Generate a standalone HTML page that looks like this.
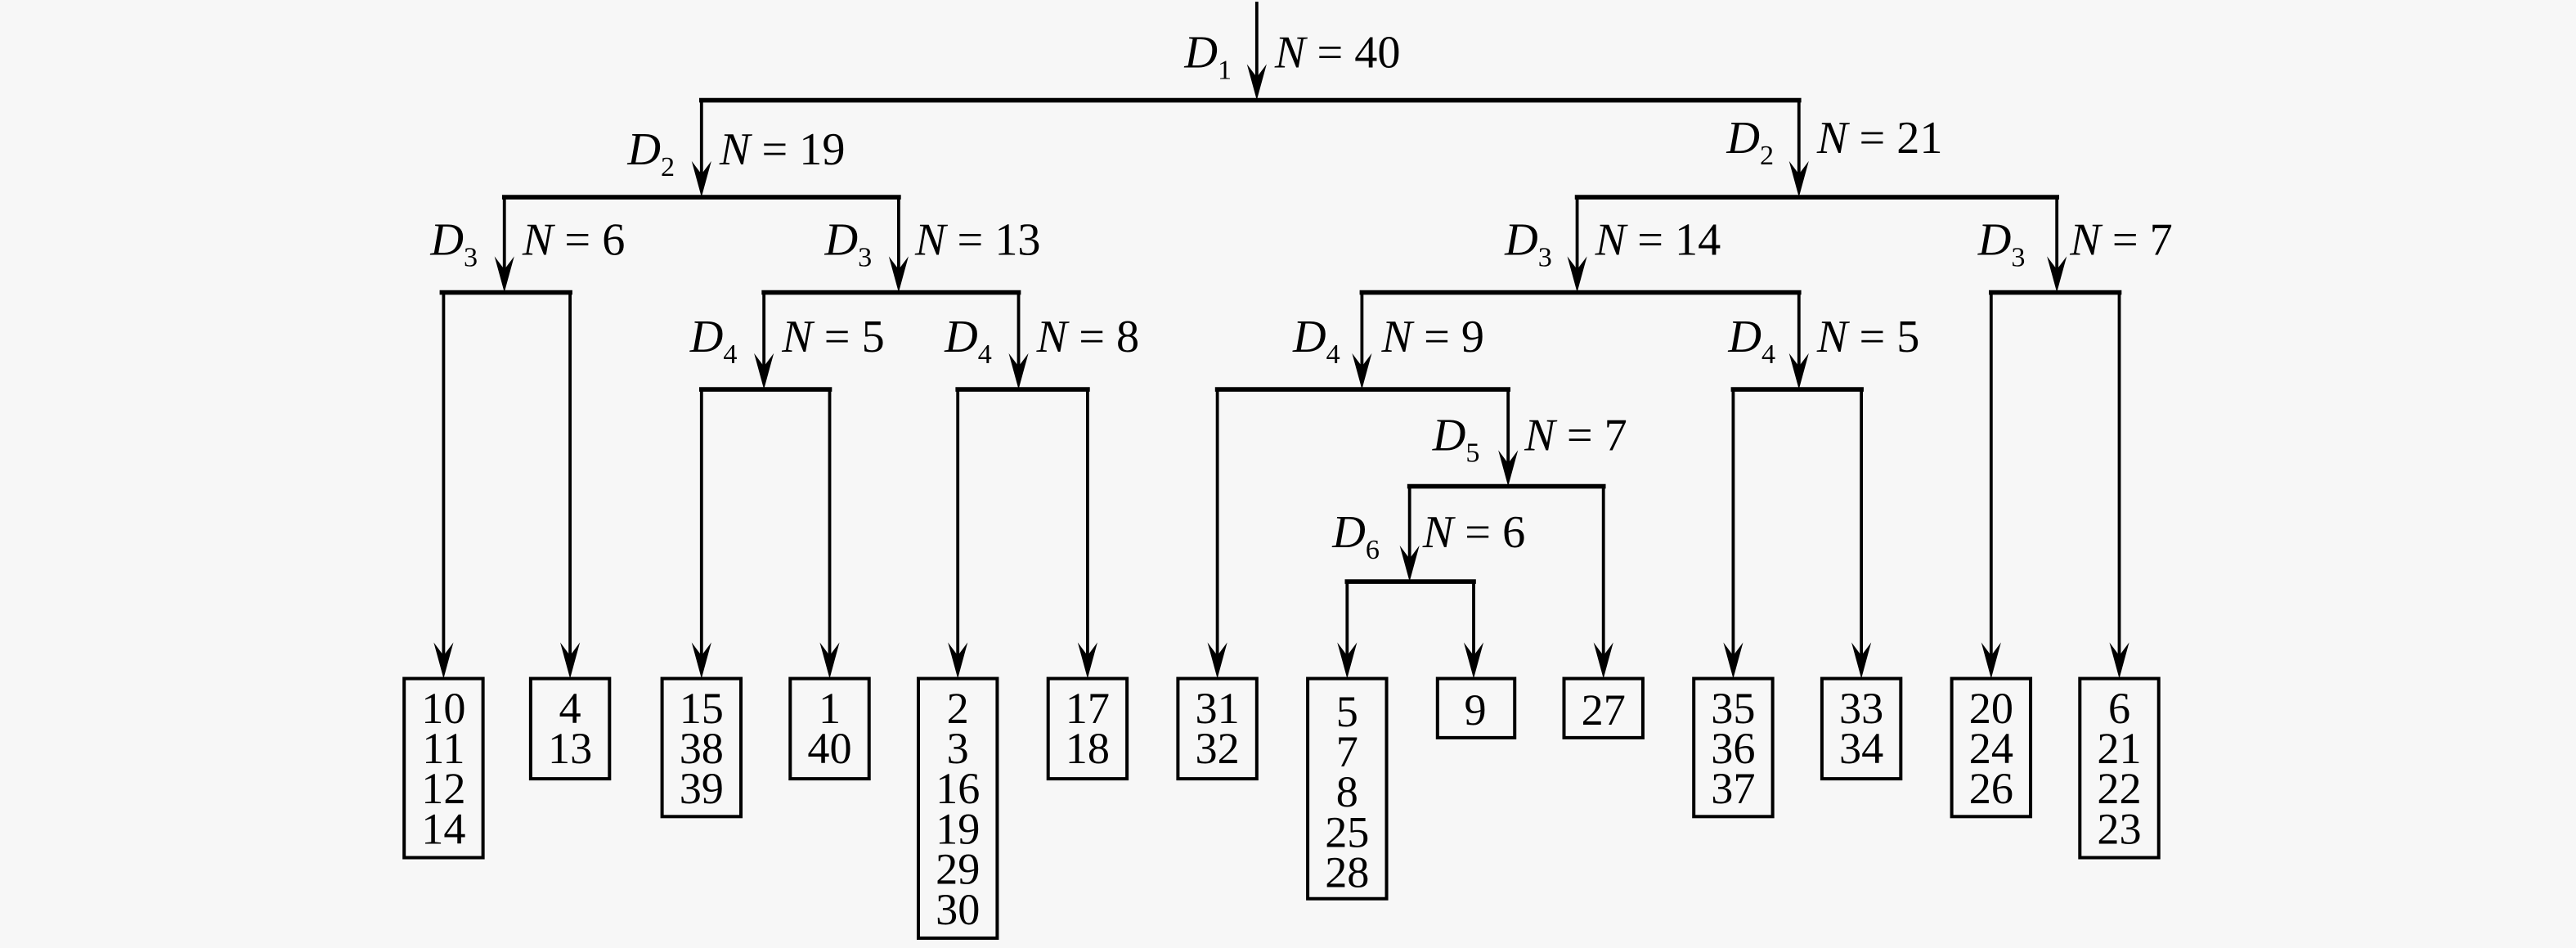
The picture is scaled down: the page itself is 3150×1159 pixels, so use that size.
<!DOCTYPE html>
<html><head><meta charset="utf-8"><style>
html,body{margin:0;padding:0;background:#f7f7f7;}
svg{display:block;}
text{font-family:"Liberation Serif",serif;fill:#000;}
</style></head><body>
<svg width="3150" height="1159" viewBox="0 0 1568 577" preserveAspectRatio="none" xmlns="http://www.w3.org/2000/svg">
<rect width="1568" height="577" fill="#f7f7f7"/>
<g stroke="#000" fill="none" stroke-linecap="square">
<g stroke-width="2.8">
<line x1="427" y1="61" x2="1095" y2="61"/>
<line x1="307" y1="120" x2="547" y2="120"/>
<line x1="960" y1="120" x2="1252" y2="120"/>
<line x1="269" y1="178" x2="347" y2="178"/>
<line x1="465" y1="178" x2="620" y2="178"/>
<line x1="829" y1="178" x2="1095" y2="178"/>
<line x1="1212" y1="178" x2="1290" y2="178"/>
<line x1="427" y1="237" x2="505" y2="237"/>
<line x1="583" y1="237" x2="662" y2="237"/>
<line x1="741" y1="237" x2="918" y2="237"/>
<line x1="1055" y1="237" x2="1133" y2="237"/>
<line x1="858" y1="296" x2="976" y2="296"/>
<line x1="820" y1="354" x2="897" y2="354"/>
</g>
<g stroke-width="1.9">
<line x1="765" y1="2" x2="765" y2="55"/>
<line x1="427" y1="61" x2="427" y2="114"/>
<line x1="1095" y1="61" x2="1095" y2="114"/>
<line x1="307" y1="120" x2="307" y2="172"/>
<line x1="547" y1="120" x2="547" y2="172"/>
<line x1="960" y1="120" x2="960" y2="172"/>
<line x1="1252" y1="120" x2="1252" y2="172"/>
<line x1="465" y1="178" x2="465" y2="231"/>
<line x1="620" y1="178" x2="620" y2="231"/>
<line x1="829" y1="178" x2="829" y2="231"/>
<line x1="1095" y1="178" x2="1095" y2="231"/>
<line x1="918" y1="237" x2="918" y2="290"/>
<line x1="858" y1="296" x2="858" y2="348"/>
<line x1="270" y1="178" x2="270" y2="406"/>
<line x1="347" y1="178" x2="347" y2="406"/>
<line x1="427" y1="237" x2="427" y2="406"/>
<line x1="505" y1="237" x2="505" y2="406"/>
<line x1="583" y1="237" x2="583" y2="406"/>
<line x1="662" y1="237" x2="662" y2="406"/>
<line x1="741" y1="237" x2="741" y2="406"/>
<line x1="820" y1="354" x2="820" y2="406"/>
<line x1="897" y1="354" x2="897" y2="406"/>
<line x1="976" y1="296" x2="976" y2="406"/>
<line x1="1055" y1="237" x2="1055" y2="406"/>
<line x1="1133" y1="237" x2="1133" y2="406"/>
<line x1="1212" y1="178" x2="1212" y2="406"/>
<line x1="1290" y1="178" x2="1290" y2="406"/>
</g>
<g stroke-width="2">
<rect x="246" y="413" width="48" height="109"/>
<rect x="323" y="413" width="48" height="61"/>
<rect x="403" y="413" width="48" height="84"/>
<rect x="481" y="413" width="48" height="61"/>
<rect x="559" y="413" width="48" height="158"/>
<rect x="638" y="413" width="48" height="61"/>
<rect x="717" y="413" width="48" height="61"/>
<rect x="796" y="413" width="48" height="134"/>
<rect x="875" y="413" width="47" height="36"/>
<rect x="952" y="413" width="48" height="36"/>
<rect x="1031" y="413" width="48" height="84"/>
<rect x="1109" y="413" width="48" height="61"/>
<rect x="1188" y="413" width="48" height="84"/>
<rect x="1266" y="413" width="48" height="109"/>
</g>
</g>
<g fill="#000">
<path d="M765 61 L759 39 L765 47 L771 39Z"/>
<path d="M427 120 L421 98 L427 106 L433 98Z"/>
<path d="M1095 120 L1089 98 L1095 106 L1101 98Z"/>
<path d="M307 178 L301 156 L307 164 L313 156Z"/>
<path d="M547 178 L541 156 L547 164 L553 156Z"/>
<path d="M960 178 L954 156 L960 164 L966 156Z"/>
<path d="M1252 178 L1246 156 L1252 164 L1258 156Z"/>
<path d="M465 237 L459 215 L465 223 L471 215Z"/>
<path d="M620 237 L614 215 L620 223 L626 215Z"/>
<path d="M829 237 L823 215 L829 223 L835 215Z"/>
<path d="M1095 237 L1089 215 L1095 223 L1101 215Z"/>
<path d="M918 296 L912 274 L918 282 L924 274Z"/>
<path d="M858 354 L852 332 L858 340 L864 332Z"/>
<path d="M270 413 L264 391 L270 399 L276 391Z"/>
<path d="M347 413 L341 391 L347 399 L353 391Z"/>
<path d="M427 413 L421 391 L427 399 L433 391Z"/>
<path d="M505 413 L499 391 L505 399 L511 391Z"/>
<path d="M583 413 L577 391 L583 399 L589 391Z"/>
<path d="M662 413 L656 391 L662 399 L668 391Z"/>
<path d="M741 413 L735 391 L741 399 L747 391Z"/>
<path d="M820 413 L814 391 L820 399 L826 391Z"/>
<path d="M897 413 L891 391 L897 399 L903 391Z"/>
<path d="M976 413 L970 391 L976 399 L982 391Z"/>
<path d="M1055 413 L1049 391 L1055 399 L1061 391Z"/>
<path d="M1133 413 L1127 391 L1133 399 L1139 391Z"/>
<path d="M1212 413 L1206 391 L1212 399 L1218 391Z"/>
<path d="M1290 413 L1284 391 L1290 399 L1296 391Z"/>
</g>
<g font-size="28">
<text x="721" y="41"><tspan font-style="italic">D</tspan><tspan font-size="17" dy="7">1</tspan></text>
<text x="776" y="41"><tspan font-style="italic">N</tspan> = 40</text>
<text x="382" y="100"><tspan font-style="italic">D</tspan><tspan font-size="17" dy="7">2</tspan></text>
<text x="438" y="100"><tspan font-style="italic">N</tspan> = 19</text>
<text x="1051" y="93"><tspan font-style="italic">D</tspan><tspan font-size="17" dy="7">2</tspan></text>
<text x="1106" y="93"><tspan font-style="italic">N</tspan> = 21</text>
<text x="262" y="155"><tspan font-style="italic">D</tspan><tspan font-size="17" dy="7">3</tspan></text>
<text x="318" y="155"><tspan font-style="italic">N</tspan> = 6</text>
<text x="502" y="155"><tspan font-style="italic">D</tspan><tspan font-size="17" dy="7">3</tspan></text>
<text x="557" y="155"><tspan font-style="italic">N</tspan> = 13</text>
<text x="916" y="155"><tspan font-style="italic">D</tspan><tspan font-size="17" dy="7">3</tspan></text>
<text x="971" y="155"><tspan font-style="italic">N</tspan> = 14</text>
<text x="1204" y="155"><tspan font-style="italic">D</tspan><tspan font-size="17" dy="7">3</tspan></text>
<text x="1260" y="155"><tspan font-style="italic">N</tspan> = 7</text>
<text x="420" y="214"><tspan font-style="italic">D</tspan><tspan font-size="17" dy="7">4</tspan></text>
<text x="476" y="214"><tspan font-style="italic">N</tspan> = 5</text>
<text x="575" y="214"><tspan font-style="italic">D</tspan><tspan font-size="17" dy="7">4</tspan></text>
<text x="631" y="214"><tspan font-style="italic">N</tspan> = 8</text>
<text x="787" y="214"><tspan font-style="italic">D</tspan><tspan font-size="17" dy="7">4</tspan></text>
<text x="841" y="214"><tspan font-style="italic">N</tspan> = 9</text>
<text x="1052" y="214"><tspan font-style="italic">D</tspan><tspan font-size="17" dy="7">4</tspan></text>
<text x="1106" y="214"><tspan font-style="italic">N</tspan> = 5</text>
<text x="872" y="274"><tspan font-style="italic">D</tspan><tspan font-size="17" dy="7">5</tspan></text>
<text x="928" y="274"><tspan font-style="italic">N</tspan> = 7</text>
<text x="811" y="333"><tspan font-style="italic">D</tspan><tspan font-size="17" dy="7">6</tspan></text>
<text x="866" y="333"><tspan font-style="italic">N</tspan> = 6</text>
</g>
<g font-size="27" text-anchor="middle">
<text x="270" y="440">10</text><text x="270" y="464.5">11</text><text x="270" y="489">12</text><text x="270" y="513.5">14</text>
<text x="347" y="440">4</text><text x="347" y="464.5">13</text>
<text x="427" y="440">15</text><text x="427" y="464.5">38</text><text x="427" y="489">39</text>
<text x="505" y="440">1</text><text x="505" y="464.5">40</text>
<text x="583" y="440">2</text><text x="583" y="464.5">3</text><text x="583" y="489">16</text><text x="583" y="513.5">19</text><text x="583" y="538">29</text><text x="583" y="562.5">30</text>
<text x="662" y="440">17</text><text x="662" y="464.5">18</text>
<text x="741" y="440">31</text><text x="741" y="464.5">32</text>
<text x="820" y="442">5</text><text x="820" y="466.5">7</text><text x="820" y="491">8</text><text x="820" y="515.5">25</text><text x="820" y="540">28</text>
<text x="898" y="441">9</text>
<text x="976" y="441">27</text>
<text x="1055" y="440">35</text><text x="1055" y="464.5">36</text><text x="1055" y="489">37</text>
<text x="1133" y="440">33</text><text x="1133" y="464.5">34</text>
<text x="1212" y="440">20</text><text x="1212" y="464.5">24</text><text x="1212" y="489">26</text>
<text x="1290" y="440">6</text><text x="1290" y="464.5">21</text><text x="1290" y="489">22</text><text x="1290" y="513.5">23</text>
</g>
</svg>
</body></html>
